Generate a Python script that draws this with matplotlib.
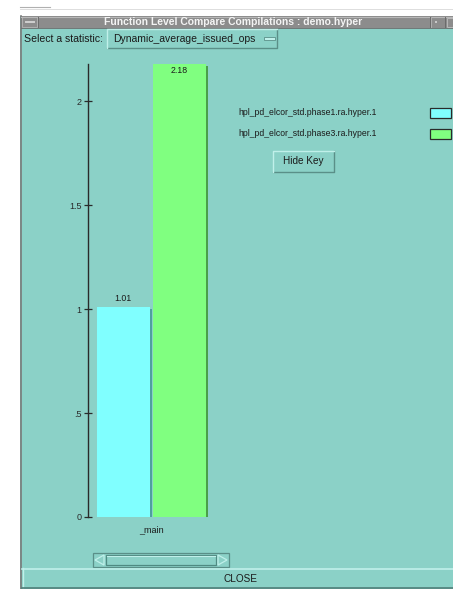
import matplotlib
matplotlib.use("Agg")
import matplotlib.pyplot as plt
from matplotlib.patches import Rectangle, Polygon
import matplotlib.patheffects as pe

# ---- data ----
categories = ["_main"]
series_names = ["hpl_pd_elcor_std.phase1.ra.hyper.1",
                "hpl_pd_elcor_std.phase3.ra.hyper.1"]
series_values = [[1.01], [2.18]]
series_colors = ["#80ffff", "#80ff80"]
shadow_colors = ["#4f9f9f", "#4a9f4a"]
ytick_vals = [0, 0.5, 1, 1.5, 2]
ytick_labels = ["0", ".5", "1", "1.5", "2"]
title = "Function Level Compare Compilations : demo.hyper"
stat_name = "Dynamic_average_issued_ops"

W, H = 453, 589
BG = "#8bd1c7"
FONT = "Liberation Sans"
plt.rcParams['font.family'] = [FONT, 'DejaVu Sans']

fig = plt.figure(figsize=(W / 100, H / 100), dpi=100)
fig.patch.set_facecolor("white")

# background / GUI axes in pixel coordinates (y down)
bg = fig.add_axes([0, 0, 1, 1])
bg.set_xlim(0, W)
bg.set_ylim(H, 0)
bg.axis("off")

# window body
bg.add_patch(Rectangle((20, 16), W - 20, H - 16, facecolor=BG, edgecolor="none"))
bg.plot([20.5, 20.5], [16, H], color="#7a7a7a", lw=1.2)
# faint line of window behind at top
bg.plot([20, 50], [7, 7], color="#b0b0b0", lw=0.8)
bg.plot([20, W], [8.5, 8.5], color="#d8d8d8", lw=0.6)

# title bar
bg.add_patch(Rectangle((21, 16), W - 21, 12, facecolor="#8c8c8c", edgecolor="none"))
bg.plot([21, W], [16.5, 16.5], color="#b8b8b8", lw=0.8)
bg.plot([21, W], [27.5, 27.5], color="#6a6a6a", lw=0.6)
# left button
bg.add_patch(Rectangle((22, 17), 15, 10, facecolor="#8c8c8c", edgecolor="#b0b0b0", lw=0.7))
bg.plot([25.5, 33.5], [22, 22], color="#d0d0d0", lw=1.4)
bg.plot([37.5, 37.5], [17, 27], color="#6a6a6a", lw=0.7)
# right buttons
bg.plot([429.5, 429.5], [17, 27], color="#6a6a6a", lw=0.7)
bg.plot([430.5, 430.5], [17, 27], color="#b0b0b0", lw=0.7)
bg.add_patch(Rectangle((435, 21), 2, 2, facecolor="#c8c8c8", edgecolor="none"))
bg.plot([444.5, 444.5], [17, 27], color="#6a6a6a", lw=0.7)
bg.add_patch(Rectangle((447, 18), 8, 9, facecolor="#8c8c8c", edgecolor="#b8b8b8", lw=0.7))
bg.text(233, 22, title, color="#f4f4f4", fontsize=7.5, fontweight="bold",
        ha="center", va="center")

# statistic selector
bg.text(24, 38.5, "Select a statistic:", fontsize=7.6, color="#1a1a1a",
        ha="left", va="center")
bg.add_patch(Rectangle((107, 29), 170, 19, facecolor=BG, edgecolor="none"))
bg.plot([107, 277, 277], [48, 48, 29], color="#5a8f88", lw=1)
bg.plot([107, 107, 277], [48, 29, 29], color="#c0f0ea", lw=1)
bg.text(113, 38.5, stat_name, fontsize=7.5, color="#1a1a1a", ha="left", va="center")
bg.add_patch(Rectangle((264, 37), 11, 3, facecolor="#c0f0ea", edgecolor="#5a8f88", lw=0.6))

# ---- chart axes ----
px_left, px_right = 88, 218
px_top, px_bottom = 64, 517
ymax = max(max(v) for v in series_values)
ax = fig.add_axes([px_left / W, 1 - px_bottom / H,
                   (px_right - px_left) / W, (px_bottom - px_top) / H])
ax.patch.set_visible(False)
unit = 56.0  # px per x data unit
group_center_px = 151
ax.set_xlim(-(group_center_px - px_left) / unit, (px_right - group_center_px) / unit)
ax.set_ylim(0, ymax)
n = len(series_names)
bar_w = 53 / unit
for i, (vals, col, sc) in enumerate(zip(series_values, series_colors, shadow_colors)):
    xs = [c + (i - (n - 1) / 2) for c in range(len(categories))]
    bars = ax.bar(xs, vals, width=bar_w, color=col, edgecolor="none", zorder=3)
    for b in bars:
        b.set_path_effects([pe.SimplePatchShadow(offset=(1.5, -1.2),
                                                 shadow_rgbFace=sc, alpha=1.0),
                            pe.Normal()])
    for x, v in zip(xs, vals):
        label = f"{v:.2f}"
        if v + 12 / 207.8 > ymax:
            ax.annotate(label, (x, v), xytext=(0, -5), textcoords="offset points",
                        ha="center", va="center", fontsize=6.3, color="#1a1a1a", zorder=5)
        else:
            ax.annotate(label, (x, v), xytext=(0, 6.5), textcoords="offset points",
                        ha="center", va="center", fontsize=6.3, color="#1a1a1a", zorder=5)

for s in ["top", "right", "bottom"]:
    ax.spines[s].set_visible(False)
ax.spines["left"].set_color("#2a2a2a")
ax.spines["left"].set_linewidth(1.0)
ax.set_yticks(ytick_vals)
ax.set_yticklabels(ytick_labels)
ax.tick_params(axis="y", direction="inout", length=6, width=0.9, color="#2a2a2a",
               pad=1.5, labelsize=6.5, labelcolor="#2a2a2a")
ax.set_xticks(list(range(len(categories))))
ax.set_xticklabels(categories)
ax.tick_params(axis="x", length=0, pad=6, labelsize=6.5, labelcolor="#1a1a1a")

# ---- legend (key) ----
for i, (name, col) in enumerate(zip(series_names, series_colors)):
    yc = 112.5 + i * 21
    bg.text(238, yc, name, fontsize=6.2, color="#1a1a1a", ha="left", va="center")
    bg.add_patch(Rectangle((429.5, yc - 5), 21, 10, facecolor=col,
                           edgecolor="#2a2a2a", lw=0.9))
# Hide Key button
bg.add_patch(Rectangle((273, 151), 61, 21, facecolor=BG, edgecolor="none"))
bg.plot([273, 334, 334], [172, 172, 151], color="#5a8f88", lw=1)
bg.plot([273, 273, 334], [172, 151, 151], color="#c0f0ea", lw=1)
bg.text(303.5, 161.5, "Hide Key", fontsize=7.2, color="#1a1a1a", ha="center", va="center")

# ---- scrollbar ----
bg.add_patch(Rectangle((93, 553), 136, 14, facecolor=BG, edgecolor="#5a8f88", lw=0.9))
bg.add_patch(Rectangle((106, 555), 110, 10, facecolor=BG, edgecolor="#4f8a82", lw=0.9))
bg.plot([107, 215], [556, 556], color="#c0f0ea", lw=0.8)
bg.add_patch(Polygon([[104, 555], [104, 565], [95, 560]], closed=True,
                     facecolor=BG, edgecolor="#c0f0ea", lw=0.9))
bg.add_patch(Polygon([[218, 555], [218, 565], [227, 560]], closed=True,
                     facecolor=BG, edgecolor="#c0f0ea", lw=0.9))

# ---- CLOSE button bar ----
bg.plot([22, W], [568.5, 568.5], color="#c0f0ea", lw=1.2)
bg.plot([22.5, 22.5], [568, 588], color="#c0f0ea", lw=1.0)
bg.plot([22, W], [588, 588], color="#4f7f79", lw=1.2)
bg.text(240, 578.5, "CLOSE", fontsize=7.2, color="#1a1a1a", ha="center", va="center")

fig.savefig("out.png", dpi=100, facecolor=fig.get_facecolor())
